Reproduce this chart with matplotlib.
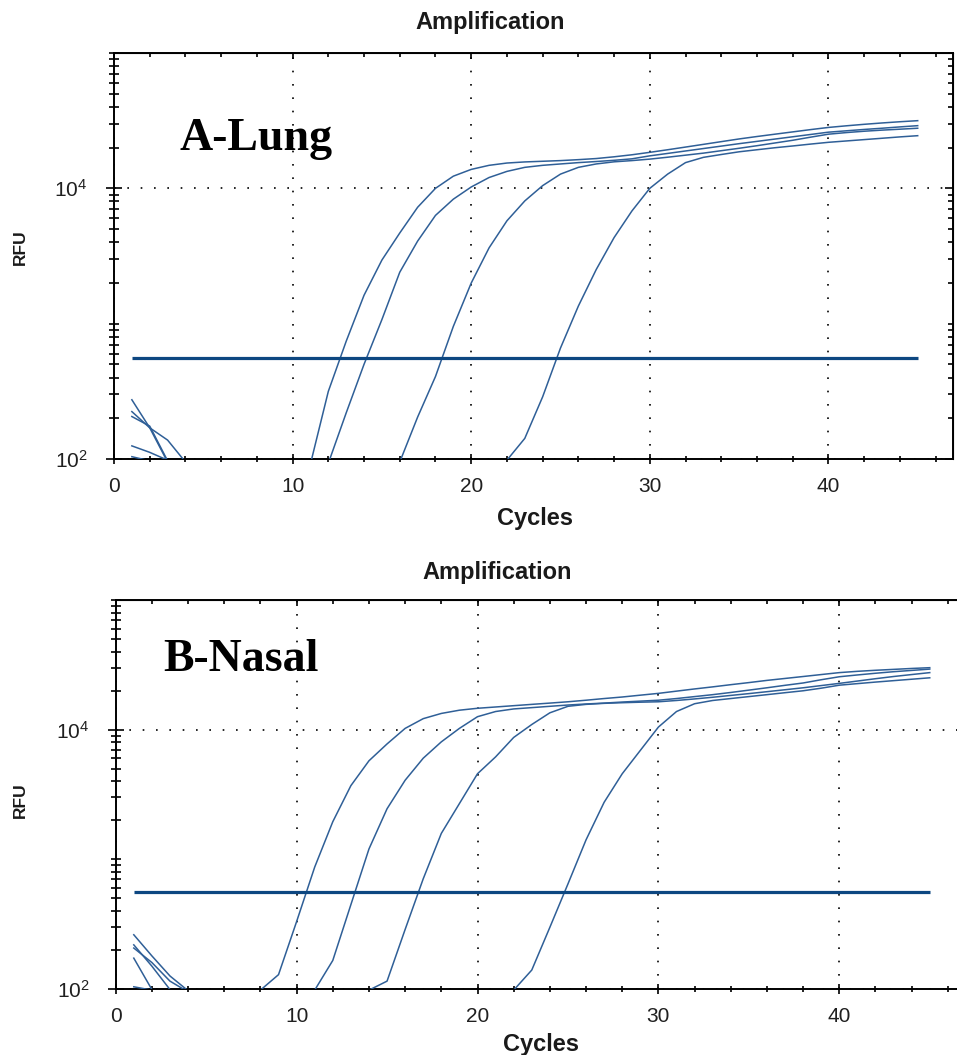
import matplotlib
matplotlib.use("Agg")
import matplotlib.pyplot as plt
import numpy as np
from matplotlib.ticker import FixedLocator, MultipleLocator, LogLocator, FuncFormatter, NullFormatter

plt.rcParams['font.family'] = ['Liberation Sans', 'DejaVu Sans']

# ---------------- data ----------------
CYCLES = np.arange(1, 46)
THRESHOLD_RFU = 560

TITLE = "Amplification"
XLABEL = "Cycles"
YLABEL = "RFU"
PANEL_A = "A-Lung"
PANEL_B = "B-Nasal"

# Panel A (Lung) RFU per cycle
lung_1 = [224, 170, 138, 95, 90, 88, 87, 86, 86, 88, 92,
          316, 741, 1622, 2951, 4677, 7244, 10000, 12300, 13800, 14790, 15380,
          15670, 15850, 16030, 16290, 16600, 17100, 17700, 18450, 19280, 20180,
          21130, 22130, 23170, 24150, 25120, 26120, 27160, 28180, 28970, 29720,
          30410, 31050, 31620]
lung_2 = [206, 175, 97, 92, 90, 89, 88, 88, 89, 90, 92, 93,
          219, 501, 1072, 2400, 4074, 6310, 8318, 10230, 12020, 13340, 14290,
          14790, 15140, 15490, 15780, 16110, 16520, 17380, 18110, 18880, 19680,
          20510, 21380, 22230, 23120, 24040, 25000, 26000, 26610, 27230, 27800,
          28440, 29040]
lung_3 = [274, 170, 95, 90, 88, 87, 86, 86, 87, 88, 88, 89, 90, 91, 93, 95,
          204, 407, 955, 1995, 3631, 5754, 8070, 10470, 12740, 14290, 15140,
          15700, 16030, 16440, 16980, 17580, 18200, 18970, 19770, 20650, 21630,
          22650, 23880, 25120, 25820, 26420, 26920, 27350, 27800]
lung_4 = [125, 112, 98, 92, 90, 88, 87, 86, 86, 87, 88, 88, 89, 90, 90, 91,
          92, 93, 94, 95, 96, 98,
          142, 288, 661, 1349, 2512, 4325, 6808, 10000, 12740, 15490, 16940,
          17780, 18620, 19280, 19950, 20560, 21230, 21880, 22390, 22910, 23440,
          23990, 24490]
lung_ntc = [104, 97, 92, 88, 85, 84, 83, 82, 82, 81, 81, 80, 80, 80, 79,
            79, 79, 78, 78, 78, 78, 77, 77, 77, 77, 76, 76, 76, 76, 76, 75,
            75, 75, 75, 75, 74, 74, 74, 74, 74, 74, 73, 73, 73, 73]

# Panel B (Nasal) RFU per cycle
nasal_1 = [262, 180, 126, 97, 92, 90, 92, 98,
           129, 331, 871, 1950, 3700, 5754, 7762, 10230, 12160, 13340, 14130,
           14620, 14960, 15310, 15670, 16030, 16410, 16870, 17380, 17860, 18450,
           19050, 19820, 20610, 21380, 22230, 23070, 23990, 24830, 25700, 26610,
           27540, 28180, 28710, 29170, 29650, 30060]
nasal_2 = [219, 150, 99, 93, 90, 89, 88, 88, 89, 92, 98,
           166, 447, 1202, 2455, 4074, 6026, 8054, 10230, 12590, 13800, 14450,
           14790, 15140, 15490, 15780, 16030, 16330, 16600, 16870, 17380, 17990,
           18620, 19360, 20180, 21040, 21980, 22910, 24270, 25590, 26420, 27230,
           27990, 28640, 29310]
nasal_3 = [207, 160, 115, 95, 90, 88, 87, 87, 88, 89, 90, 92, 95, 98,
           115, 288, 708, 1585, 2692, 4571, 6166, 8710, 10960, 13490, 15140,
           15670, 15960, 16140, 16290, 16410, 16790, 17260, 17780, 18370, 18970,
           19630, 20320, 21040, 21880, 22750, 23710, 24720, 25700, 26610, 27540]
nasal_4 = [173, 99, 93, 90, 88, 87, 86, 86, 87, 88, 88, 89, 90, 90, 91, 92,
           93, 94, 95, 96, 97, 98,
           140, 299, 646, 1413, 2754, 4571, 6918, 10470, 13800, 15850, 16790,
           17380, 17990, 18620, 19280, 19950, 20890, 22030, 22650, 23280, 23880,
           24490, 25120]
nasal_ntc = [104, 98, 93, 89, 86, 84, 83, 82, 82, 81, 81, 80, 80, 80, 79,
             79, 79, 78, 78, 78, 78, 77, 77, 77, 77, 76, 76, 76, 76, 76, 75,
             75, 75, 75, 75, 74, 74, 74, 74, 74, 74, 73, 73, 73, 73]

LUNG_SERIES = [lung_1, lung_2, lung_3, lung_4, lung_ntc]
NASAL_SERIES = [nasal_1, nasal_2, nasal_3, nasal_4, nasal_ntc]

# ---------------- style ----------------
W, H = 957, 1055
CURVE_COLOR = '#2f5f97'
THRESH_COLOR = '#0d4781'
TICK_TEXT = '#202020'
LABEL_COLOR = '#1a1a1a'

fig = plt.figure(figsize=(W / 100, H / 100), dpi=100)


def rect(l, t, r, b):
    return [l / W, 1 - b / H, (r - l) / W, (b - t) / H]


def pow_fmt(v, pos):
    return r'$\mathregular{10^{%d}}$' % int(round(np.log10(v)))


def style_axes(ax):
    ax.set_yscale('log')
    ax.set_xlim(0, 47)
    ax.set_ylim(100, 1e5)
    ax.xaxis.set_major_locator(MultipleLocator(10))
    ax.xaxis.set_minor_locator(MultipleLocator(2))
    ax.yaxis.set_major_locator(FixedLocator([1e2, 1e4]))
    ax.yaxis.set_minor_locator(LogLocator(base=10, subs=np.arange(1, 10)))
    ax.yaxis.set_major_formatter(FuncFormatter(pow_fmt))
    ax.yaxis.set_minor_formatter(NullFormatter())
    ax.tick_params(axis='x', which='major', direction='inout', length=7.5,
                   width=1.2, labelsize=15, pad=9, labelcolor=TICK_TEXT)
    ax.tick_params(axis='x', which='minor', direction='inout', length=5,
                   width=1.2)
    ax.tick_params(axis='y', which='major', direction='inout', length=12,
                   width=1.2, labelsize=15, pad=13, labelcolor=TICK_TEXT)
    ax.tick_params(axis='y', which='minor', direction='inout', length=6.5,
                   width=1.2)
    for sp in ax.spines.values():
        sp.set_linewidth(1.4)
        sp.set_color('black')
    ax.grid(True, which='major', color='black', linestyle=(0, (1, 7)),
            linewidth=1.2)
    top = ax.secondary_xaxis('top')
    top.xaxis.set_major_locator(MultipleLocator(10))
    top.xaxis.set_minor_locator(MultipleLocator(2))
    top.tick_params(which='major', direction='in', length=4, width=1.2,
                    labeltop=False)
    top.tick_params(which='minor', direction='in', length=3, width=1.2)
    right = ax.secondary_yaxis('right')
    right.set_yscale('log')
    right.yaxis.set_major_locator(FixedLocator([1e2, 1e4]))
    right.yaxis.set_minor_locator(LogLocator(base=10, subs=np.arange(1, 10)))
    right.tick_params(which='major', direction='in', length=6, width=1.2,
                      labelright=False)
    right.tick_params(which='minor', direction='in', length=3.5, width=1.2)
    right.yaxis.set_minor_formatter(NullFormatter())
    right.yaxis.set_major_formatter(NullFormatter())


def draw(ax, series):
    for s in series:
        ax.plot(CYCLES, s, color=CURVE_COLOR, lw=1.1, zorder=3)
    ax.hlines(THRESHOLD_RFU, CYCLES[0], CYCLES[-1], color=THRESH_COLOR,
              lw=2.3, zorder=4)


ax1 = fig.add_axes(rect(114, 53, 114 + 17.86 * 47, 459))
ax2 = fig.add_axes(rect(115.7, 600, 115.7 + 18.09 * 47, 989))
for ax, series in ((ax1, LUNG_SERIES), (ax2, NASAL_SERIES)):
    style_axes(ax)
    draw(ax, series)

ax1.text(0.078, 0.761, PANEL_A, transform=ax1.transAxes, family='Liberation Serif',
         fontweight='bold', fontsize=33, va='baseline', ha='left')
ax2.text(0.056, 0.817, PANEL_B, transform=ax2.transAxes, family='Liberation Serif',
         fontweight='bold', fontsize=33, va='baseline', ha='left')


def ftext(x, y, s, **kw):
    fig.text(x / W, 1 - y / H, s, ha='center', va='center', **kw)


ftext(490, 22, TITLE, fontsize=17, fontweight='bold', color=LABEL_COLOR)
ftext(497, 572, TITLE, fontsize=17, fontweight='bold', color=LABEL_COLOR)
ftext(535, 518, XLABEL, fontsize=17, fontweight='bold', color=LABEL_COLOR)
ftext(541, 1045, XLABEL, fontsize=17, fontweight='bold', color=LABEL_COLOR)
ftext(20, 247, YLABEL, fontsize=12.5, fontweight='bold', rotation=90, color=LABEL_COLOR)
ftext(20, 800, YLABEL, fontsize=12.5, fontweight='bold', rotation=90, color=LABEL_COLOR)

fig.savefig('out.png', dpi=100)
